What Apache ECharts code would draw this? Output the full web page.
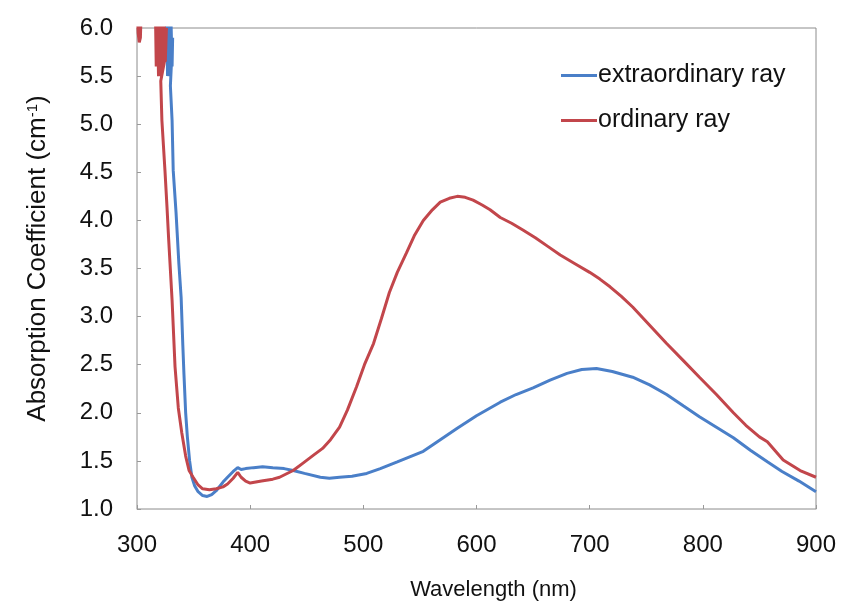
<!DOCTYPE html>
<html>
<head>
<meta charset="utf-8">
<script src="https://cdn.jsdelivr.net/npm/echarts@6/dist/echarts.min.js"></script>
<style>html,body{margin:0;padding:0;background:#fff}#c{width:843px;height:608px}</style>
</head>
<body>
<div id="c"></div>
<script>
// Data: [wavelength (nm), absorption coefficient (cm^-1)]
var extraordinaryRay = [
  [326, 6.3], [327, 5.5], [328, 6.2], [329, 5.5], [330, 6.1], [331, 5.6], [331.5, 5.9], [329.5, 5.4],
  [331, 5.04], [332, 4.52], [334.5, 4.08], [335.5, 3.87], [337, 3.55], [339, 3.2], [340.5, 2.7],
  [341.5, 2.4], [343, 2.0], [344.5, 1.75], [346.5, 1.5], [348.5, 1.33], [351, 1.24], [354, 1.18],
  [358, 1.14], [362, 1.13], [366, 1.15], [370, 1.19], [376, 1.28], [380, 1.33], [385, 1.39],
  [389, 1.43], [392, 1.41], [396, 1.42], [403, 1.43], [411, 1.44], [420, 1.43], [430, 1.42],
  [438, 1.40], [448, 1.37], [462, 1.33], [470, 1.32], [479, 1.33], [490, 1.34], [503, 1.37],
  [515, 1.42], [530, 1.49], [553, 1.60], [568, 1.72], [583, 1.84], [600, 1.97], [621, 2.11],
  [635, 2.19], [650, 2.26], [665, 2.34], [680, 2.41], [693, 2.45], [706, 2.46], [720, 2.43],
  [738, 2.37], [753, 2.29], [768, 2.19], [783, 2.07], [797, 1.96], [812, 1.85], [827, 1.74],
  [842, 1.61], [857, 1.49], [870, 1.39], [885, 1.29], [900, 1.18]
];
var ordinaryRay = [
  [300, 6.3], [301, 5.95], [302, 5.85], [303, 5.9], [304, 6.3],
  [316, 6.4], [317, 5.6], [318, 6.2], [319, 5.5], [320, 6.2], [321, 5.5], [322, 6.2], [323, 5.6],
  [324, 6.1], [325, 5.65], [326, 6.0], [325, 5.7], [321, 5.45],
  [322, 5.04], [324.7, 4.52], [326.5, 4.14], [328, 3.8], [331, 3.17], [333.6, 2.48], [336.5, 2.05],
  [339.6, 1.79], [343, 1.55], [346, 1.40], [349.6, 1.33], [354, 1.25], [358, 1.21], [364, 1.20],
  [370, 1.21], [376, 1.23], [380, 1.26], [385, 1.32], [389, 1.38], [392, 1.33], [396, 1.29],
  [400, 1.27], [410, 1.29], [420, 1.31], [426, 1.33], [438, 1.40], [447, 1.48], [456, 1.56],
  [464, 1.63], [471, 1.72], [479, 1.85], [486, 2.03], [494, 2.27], [501, 2.50], [509, 2.72],
  [516, 2.98], [523, 3.25], [530, 3.46], [538, 3.66], [545, 3.84], [553, 4.00], [561, 4.11],
  [568, 4.19], [576, 4.23], [583, 4.25], [590, 4.24], [597, 4.21], [605, 4.16], [612, 4.11],
  [621, 4.03], [631, 3.97], [641, 3.90], [652, 3.82], [663, 3.73], [674, 3.64], [687, 3.55],
  [700, 3.46], [709, 3.39], [718, 3.31], [728, 3.21], [738, 3.10], [753, 2.91], [768, 2.72],
  [783, 2.54], [797, 2.37], [812, 2.19], [827, 2.00], [838, 1.87], [850, 1.75], [857, 1.70],
  [871, 1.51], [886, 1.40], [900, 1.33]
];
var seriesNames = ['extraordinary ray', 'ordinary ray'];
var xTicks = { min: 300, max: 900, interval: 100 };
var yTicks = { min: 1.0, max: 6.0, interval: 0.5 };

var font = 'Liberation Sans, Arial, sans-serif';
var chart = echarts.init(document.getElementById('c'), null, { renderer: 'canvas' });
chart.setOption({
  backgroundColor: '#ffffff',
  animation: false,
  grid: { left: 137, right: 27, top: 28, bottom: 99, show: true, borderColor: '#8c8c8c', borderWidth: 1, backgroundColor: 'transparent' },
  legend: {
    orient: 'vertical', left: 556, top: 58, itemGap: 20, itemWidth: 36, itemHeight: 3, icon: 'rect',
    textStyle: { fontFamily: font, fontSize: 25, color: '#111', padding: [0, 0, 0, -4] },
    data: seriesNames
  },
  xAxis: {
    type: 'value', min: xTicks.min, max: xTicks.max, interval: xTicks.interval,
    name: 'Wavelength (nm)', nameLocation: 'middle', nameGap: 70,
    nameTextStyle: { fontFamily: font, fontSize: 22, color: '#111', padding: [0, 0, 0, 34] },
    axisLine: { show: true, lineStyle: { color: '#c4c4c4', width: 1 } },
    axisTick: { show: true, inside: true, length: 4, lineStyle: { color: '#999' } },
    axisLabel: { fontFamily: font, fontSize: 24, color: '#111', margin: 24 },
    splitLine: { show: false }
  },
  yAxis: {
    type: 'value', min: yTicks.min, max: yTicks.max, interval: yTicks.interval,
    name: 'Absorption Coefficient (cm{sup|-1})', nameLocation: 'middle', nameGap: 86, nameRotate: 90,
    nameTextStyle: { fontFamily: font, fontSize: 26, color: '#111', padding: [0, 0, 0, 20],
      rich: { sup: { fontFamily: font, fontSize: 15, color: '#111', verticalAlign: 'top', padding: [0, 0, 10, 0] } } },
    axisLine: { show: true, lineStyle: { color: '#c4c4c4', width: 1 } },
    axisTick: { show: true, inside: true, length: 4, lineStyle: { color: '#999' } },
    axisLabel: { fontFamily: font, fontSize: 24, color: '#111', margin: 24, formatter: function (v) { return v.toFixed(1); } },
    splitLine: { show: false }
  },
  series: [
    { name: seriesNames[0], type: 'line', data: extraordinaryRay, symbol: 'none', clip: true,
      lineStyle: { color: '#4a7fc8', width: 3 }, itemStyle: { color: '#4a7fc8' }, z: 2 },
    { name: seriesNames[1], type: 'line', data: ordinaryRay, symbol: 'none', clip: true,
      lineStyle: { color: '#c2464b', width: 3 }, itemStyle: { color: '#c2464b' }, z: 3 }
  ]
});
</script>
</body>
</html>
